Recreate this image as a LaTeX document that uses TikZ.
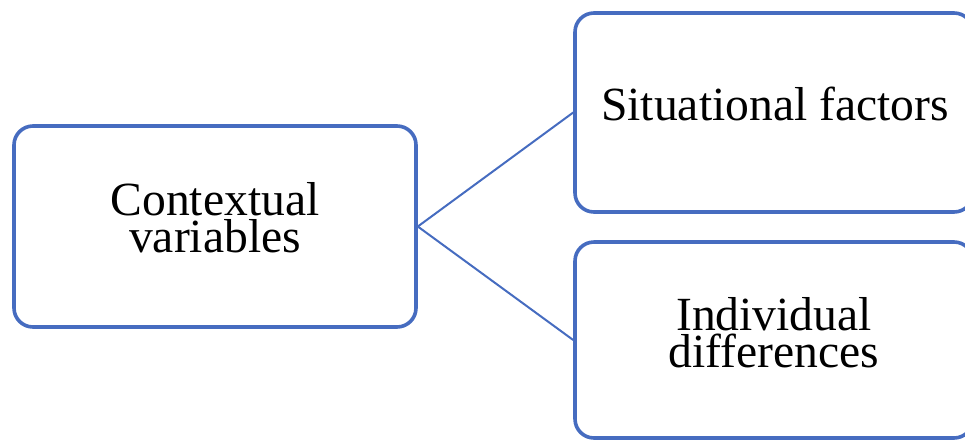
\documentclass[tikz,border=0pt]{standalone}
\usepackage{fontspec}
\setmainfont{Liberation Serif}
\definecolor{boxblue}{RGB}{70,108,192}
\begin{document}
\begin{tikzpicture}[x=1pt,y=-1pt,
  itembox/.style={draw=boxblue, line width=3.6pt, rounded corners=19pt,
    fill=white, inner sep=0pt},
  itemtext/.style={font=\fontsize{47.6}{37}\selectfont, align=center,
    inner sep=0pt, anchor=base},
  link/.style={draw=boxblue, line width=2pt}]
  \useasboundingbox (0,0) rectangle (965,440);
  % boxes
  \node[itembox, minimum width=402pt, minimum height=201pt] (ctx) at (215,226.5) {};
  \node[itembox, minimum width=398pt, minimum height=199pt] (sit) at (774,112.5) {};
  \node[itembox, minimum width=398pt, minimum height=196pt] (ind) at (774,340) {};
  % labels (base anchor sits on the last line's baseline)
  \node[itemtext] (ctxlabel) at (215,252) {Contextual\\variables};
  \node[itemtext] (sitlabel) at (775,120) {Situational factors};
  \node[itemtext] (indlabel) at (774,367) {Individual\\differences};
  % connectors
  \draw[link] (ctx.east) -- (sit.west);
  \draw[link] (ctx.east) -- (ind.west);
\end{tikzpicture}
\end{document}
